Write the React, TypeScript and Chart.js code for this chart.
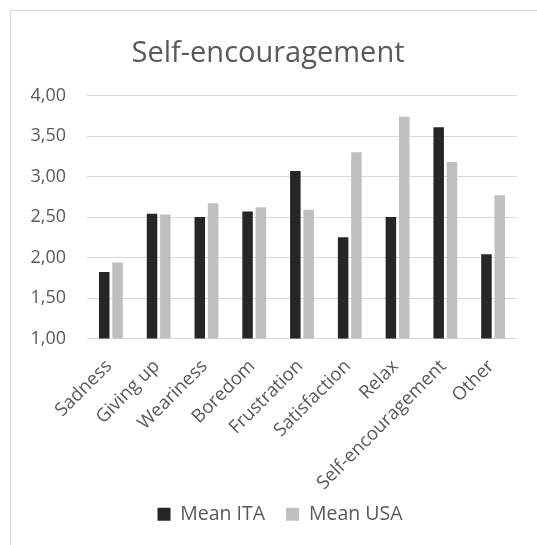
import React, { useEffect, useRef } from "react";
import { Chart, registerables } from "chart.js";

Chart.register(...registerables);

const categories = [
  "Sadness",
  "Giving up",
  "Weariness",
  "Boredom",
  "Frustration",
  "Satisfaction",
  "Relax",
  "Self-encouragement",
  "Other",
];
const meanITA = [1.82, 2.54, 2.5, 2.57, 3.07, 2.25, 2.5, 3.61, 2.04];
const meanUSA = [1.94, 2.53, 2.67, 2.62, 2.59, 3.3, 3.74, 3.18, 2.77];
const chartTitle = "Self-encouragement";
const seriesNames = ["Mean ITA", "Mean USA"];

const FONT = "'Open Sans', sans-serif";
const TEXT = "#595959";
const GRID = "#d9d9d9";

// shifts title / legend horizontally to match the original (wider) chart frame,
// and lets the rotated category labels extend below the x-axis box without clipping
const shiftPlugin = {
  id: "shiftBlocks",
  afterLayout(chart: any) {
    if (chart.titleBlock) {
      chart.titleBlock.left += 4;
      chart.titleBlock.right += 4;
    }
    if (chart.legend) {
      chart.legend.left += 16;
      chart.legend.right += 16;
    }
    if (chart.scales && chart.scales.x) {
      chart.scales.x.bottom = chart.height;
    }
  },
};

export default function App() {
  const ref = useRef<HTMLCanvasElement | null>(null);

  useEffect(() => {
    if (!ref.current) return;
    const chart = new Chart(ref.current, {
      type: "bar",
      data: {
        labels: categories,
        datasets: [
          {
            label: seriesNames[0],
            data: meanITA,
            backgroundColor: "#262626",
            categoryPercentage: 0.557,
            barPercentage: 0.79,
          },
          {
            label: seriesNames[1],
            data: meanUSA,
            backgroundColor: "#bfbfbf",
            categoryPercentage: 0.557,
            barPercentage: 0.79,
          },
        ],
      },
      plugins: [shiftPlugin],
      options: {
        responsive: false,
        animation: false,
        layout: { padding: { left: 0, right: 20, top: 0, bottom: 11 } },
        plugins: {
          title: {
            display: true,
            text: chartTitle,
            color: TEXT,
            font: { family: FONT, size: 29, weight: "normal" },
            padding: { top: 25.5, bottom: 24.3 },
          },
          legend: {
            position: "bottom",
            labels: {
              color: TEXT,
              font: { family: FONT, size: 19.5 },
              boxWidth: 13,
              boxHeight: 13,
              padding: 21,
            },
          },
          tooltip: { enabled: false },
        },
        scales: {
          x: {
            grid: { display: false },
            border: { display: false },
            ticks: {
              color: TEXT,
              font: { family: FONT, size: 18.5 },
              minRotation: 45,
              maxRotation: 45,
              padding: 9,
              labelOffset: -2,
            },
            afterFit: (scale: any) => {
              scale.height = 145;
            },
          },
          y: {
            min: 1,
            max: 4,
            grid: { color: GRID, lineWidth: 1, drawTicks: false },
            border: { display: false },
            ticks: {
              stepSize: 0.5,
              color: TEXT,
              font: { family: FONT, size: 18 },
              padding: 21,
              callback: (v: any) => Number(v).toFixed(2).replace(".", ","),
            },
            afterFit: (scale: any) => {
              scale.width = 76;
            },
          },
        },
      },
    });
    return () => chart.destroy();
  }, []);

  return (
    <div
      style={{
        position: "fixed",
        left: 10,
        top: 10,
        width: 526,
        height: 534,
        borderTop: "1px solid #d9d9d9",
        borderLeft: "1px solid #d9d9d9",
        background: "#fff",
      }}
    >
      <canvas ref={ref} width={526} height={534} style={{ display: "block", width: 526, height: 534 }} />
    </div>
  );
}
